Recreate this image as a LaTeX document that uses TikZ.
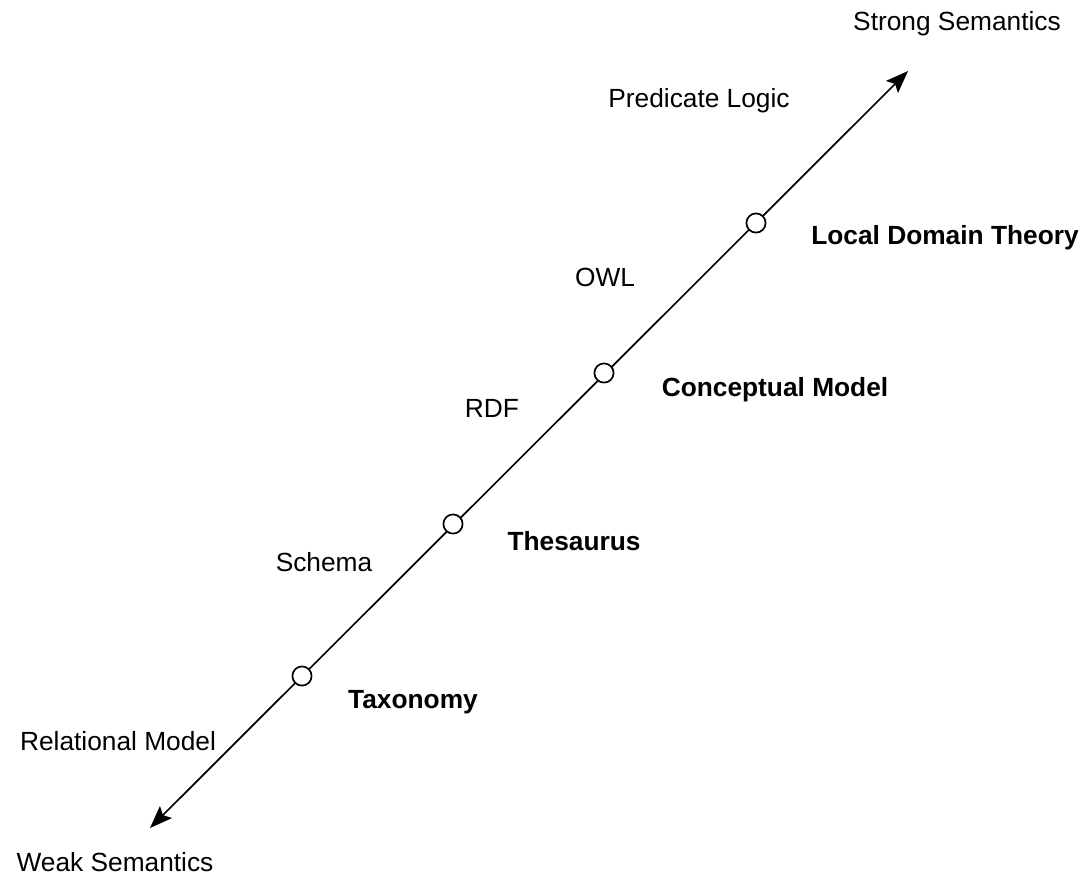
\documentclass[tikz,border=0pt]{standalone}
\usepackage{fontspec}
\setmainfont{Liberation Sans}
\usetikzlibrary{arrows.meta}
\begin{document}
\begin{tikzpicture}[x=0.025cm, y=-0.025cm, every node/.style={font=\fontsize{18.7}{22}\selectfont},
  stop/.style={draw,circle,fill=white,line width=1.2pt,minimum size=0.48cm,inner sep=0pt},
  level/.style={font=\fontsize{18.7}{22}\selectfont\bfseries}]
  \useasboundingbox (0,0) rectangle (1085,877);
  % axis ends
  \coordinate (weak) at (150,828);
  \coordinate (strong) at (908,71);
  \draw[{Stealth[length=16pt,width=12pt,inset=3pt]}-{Stealth[length=16pt,width=12pt,inset=3pt]},line width=1.2pt] (weak) -- (strong);
  % stops on the axis
  \foreach \n/\x/\y in {tax/302/676, thes/453/524, conc/604/373, ldt/756/223}
    \node[stop] (\n) at (\x,\y) {};
  % end labels
  \node (weaklbl) at (115,862) {Weak Semantics};
  \node (stronglbl) at (957,24) {Strong Semantics};
  % levels (right of axis)
  \node[level] (taxlbl) at (413,702) {Taxonomy};
  \node[level] (theslbl) at (574,541) {Thesaurus};
  \node[level] (conclbl) at (775,390) {Conceptual Model};
  \node[level] (ldtlbl) at (945,238) {Local Domain Theory};
  % languages (left of axis)
  \node (rel) at (118,741) {Relational Model};
  \node (schema) at (324,562) {Schema};
  \node (rdf) at (492,408) {RDF};
  \node (owl) at (605,277) {OWL};
  \node (pred) at (699,101) {Predicate Logic};
\end{tikzpicture}
\end{document}
